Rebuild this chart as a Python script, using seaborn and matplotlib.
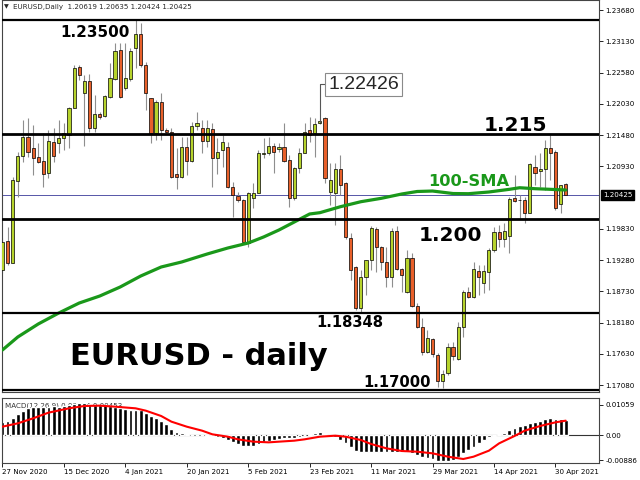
import matplotlib
matplotlib.use("Agg")
import matplotlib.pyplot as plt
import matplotlib.transforms as mtransforms
import numpy as np
import pandas as pd
import seaborn as sns

# daily candles, bar index 0 = 27 Nov 2020
opens = [1.19101, 1.19612, 1.19236, 1.20675, 1.21115, 1.21438, 1.21244, 1.21086, 1.21027, 1.20804,
         1.21350, 1.21332, 1.21420, 1.21479, 1.21960, 1.22670, 1.22212, 1.22430, 1.21608, 1.21849,
         1.21813, 1.22154, 1.22465, 1.22976, 1.22301, 1.22459, 1.23005, 1.23252, 1.22711, 1.22125,
         1.21508, 1.22054, 1.21567, 1.21526, 1.20786, 1.20745, 1.21273, 1.21021, 1.21637, 1.21608,
         1.21373, 1.21584, 1.21068, 1.21214, 1.21261, 1.20569, 1.20404, 1.20334, 1.19571, 1.20363,
         1.20463, 1.21150, 1.21156, 1.21291, 1.21226, 1.21261, 1.21039, 1.20363, 1.20892, 1.21168,
         1.21567, 1.21508, 1.21700, 1.21772, 1.20482, 1.20465, 1.20875, 1.20629, 1.19660, 1.19162,
         1.18428, 1.18985, 1.19279, 1.19819, 1.19502, 1.19250, 1.18985, 1.19795, 1.19114, 1.18721,
         1.19308, 1.18469, 1.18093, 1.17653, 1.17882, 1.17606, 1.17154, 1.17283, 1.17741, 1.17530,
         1.18104, 1.18721, 1.18621, 1.19091, 1.18868, 1.19073, 1.19455, 1.19766, 1.19642, 1.19701,
         1.20365, 1.20335, 1.20335, 1.20112, 1.20910, 1.20846, 1.20875, 1.21245, 1.21186, 1.20265,
         1.20619]
highs = [1.19659, 1.19865, 1.20745, 1.21185, 1.21743, 1.21772, 1.21655, 1.21332, 1.21508, 1.21567,
         1.21596, 1.21743, 1.21684, 1.21978, 1.22711, 1.22711, 1.22535, 1.22547, 1.22183, 1.21890,
         1.22183, 1.22741, 1.23093, 1.23093, 1.23093, 1.23017, 1.23500, 1.23445, 1.22770, 1.22125,
         1.22095, 1.22212, 1.21596, 1.21596, 1.21244, 1.21449, 1.21449, 1.21713, 1.21878, 1.21743,
         1.21743, 1.21684, 1.21420, 1.21479, 1.21361, 1.20657, 1.20481, 1.20352, 1.20481, 1.20627,
         1.21214, 1.21420, 1.21449, 1.21332, 1.21332, 1.21684, 1.21127, 1.20921, 1.21244, 1.21684,
         1.21802, 1.21772, 1.21760, 1.21802, 1.20981, 1.20981, 1.21128, 1.20658, 1.19748, 1.19173,
         1.19103, 1.19279, 1.19878, 1.19854, 1.19525, 1.19514, 1.19837, 1.19878, 1.19132, 1.19455,
         1.19396, 1.18516, 1.18252, 1.18046, 1.17899, 1.17647, 1.17342, 1.17811, 1.17840, 1.18193,
         1.18750, 1.18809, 1.19249, 1.19190, 1.19190, 1.19484, 1.19866, 1.19895, 1.19924, 1.20394,
         1.20775, 1.20423, 1.20394, 1.20981, 1.21128, 1.21157, 1.21392, 1.21480, 1.21215, 1.20600,
         1.20635]
lows = [1.19043, 1.19190, 1.19219, 1.20393, 1.21009, 1.21097, 1.20774, 1.20980, 1.20569, 1.20716,
        1.21009, 1.21156, 1.21214, 1.21244, 1.21948, 1.22447, 1.21291, 1.21537, 1.21537, 1.21760,
        1.21802, 1.22124, 1.22447, 1.22136, 1.22271, 1.22430, 1.22653, 1.22682, 1.21919, 1.21332,
        1.21391, 1.21391, 1.21508, 1.20716, 1.20528, 1.20716, 1.20774, 1.21009, 1.21567, 1.21156,
        1.21273, 1.20569, 1.20786, 1.20921, 1.20539, 1.20041, 1.20305, 1.19589, 1.19512, 1.20187,
        1.20451, 1.21068, 1.21127, 1.20804, 1.21185, 1.21009, 1.20216, 1.20334, 1.20804, 1.21156,
        1.21361, 1.21098, 1.21680, 1.20629, 1.20247, 1.19895, 1.20423, 1.19643, 1.18927, 1.18398,
        1.18351, 1.18662, 1.19103, 1.19073, 1.19103, 1.18809, 1.18809, 1.19103, 1.18721, 1.18703,
        1.18457, 1.18076, 1.17606, 1.17635, 1.17577, 1.17048, 1.17019, 1.17254, 1.17518, 1.17518,
        1.17928, 1.18603, 1.18603, 1.18662, 1.18691, 1.18750, 1.19425, 1.19513, 1.19513, 1.19396,
        1.20306, 1.20013, 1.19924, 1.20100, 1.20599, 1.20558, 1.20511, 1.20687, 1.20159, 1.20112,
        1.20424]
closes = [1.19600, 1.19219, 1.20686, 1.21115, 1.21438, 1.21185, 1.21080, 1.21009, 1.20786, 1.21379,
          1.21115, 1.21420, 1.21508, 1.21960, 1.22653, 1.22535, 1.22428, 1.21596, 1.21843, 1.21790,
          1.22166, 1.22477, 1.22958, 1.22154, 1.22477, 1.22958, 1.23252, 1.22711, 1.22212, 1.21508,
          1.22054, 1.21567, 1.21526, 1.20745, 1.20745, 1.21273, 1.21021, 1.21637, 1.21684, 1.21373,
          1.21596, 1.21080, 1.21185, 1.21350, 1.20569, 1.20422, 1.20334, 1.19600, 1.20463, 1.20463,
          1.21156, 1.21160, 1.21291, 1.21174, 1.21261, 1.21027, 1.20363, 1.20892, 1.21168, 1.21537,
          1.21479, 1.21667, 1.21720, 1.20717, 1.20688, 1.20875, 1.20600, 1.19678, 1.19103, 1.18428,
          1.18985, 1.19279, 1.19837, 1.19502, 1.19250, 1.18985, 1.19795, 1.19114, 1.19015, 1.19308,
          1.18469, 1.18093, 1.17653, 1.17899, 1.17624, 1.17154, 1.17271, 1.17741, 1.17588, 1.18093,
          1.18721, 1.18633, 1.19114, 1.18985, 1.19091, 1.19455, 1.19766, 1.19642, 1.19789, 1.20347,
          1.20324, 1.20330, 1.20112, 1.20969, 1.20816, 1.20881, 1.21245, 1.21169, 1.20188, 1.20600,
          1.20425]

# 100-SMA at these bars
sma_idx = [0, 3, 7, 11, 15, 19, 23, 27, 31, 35, 40, 44, 48, 51, 54, 57, 60, 62, 66, 70,
           74, 78, 81, 84, 88, 91, 95, 99, 101, 104, 107, 110]
sma_val = [1.17696, 1.17925, 1.18154, 1.18347, 1.18523, 1.18646, 1.18805, 1.18998, 1.19157, 1.19245,
           1.19386, 1.19491, 1.19579, 1.19685, 1.19808, 1.19949, 1.20090, 1.20113, 1.20218, 1.20306,
           1.20366, 1.20442, 1.20486, 1.20494, 1.20450, 1.20447, 1.20477, 1.20524, 1.20552, 1.20535,
           1.20524, 1.20512]

# MACD(12,26,9) histogram, one value per bar
macd_hist = [0.00447, 0.00506, 0.00589, 0.00742, 0.00859, 0.00942, 0.00977, 0.00977, 0.01000, 0.01000,
             0.01024, 0.01000, 0.01024, 0.01059, 0.01095, 0.01118, 0.01118, 0.01095, 0.01059, 0.01059,
             0.01059, 0.01024, 0.00977, 0.00942, 0.00906, 0.00883, 0.00883, 0.00883, 0.00789, 0.00671,
             0.00589, 0.00494, 0.00388, 0.00212, 0.00118, 0.00059, 0.00024, 0.00005, -0.00005, -0.00012,
             -0.00024, -0.00050, -0.00070, -0.00120, -0.00180, -0.00250, -0.00320, -0.00380, -0.00390, -0.00390,
             -0.00320, -0.00240, -0.00200, -0.00180, -0.00150, -0.00120, -0.00120, -0.00120, -0.00080, -0.00010,
             0.00030, 0.00060, 0.00090, 0.00035, -0.00024, -0.00082, -0.00177, -0.00294, -0.00435, -0.00553,
             -0.00600, -0.00600, -0.00589, -0.00589, -0.00600, -0.00600, -0.00600, -0.00600, -0.00589, -0.00600,
             -0.00647, -0.00706, -0.00765, -0.00800, -0.00847, -0.00906, -0.00918, -0.00906, -0.00883, -0.00789,
             -0.00647, -0.00530, -0.00412, -0.00294, -0.00177, -0.00082, -0.00035, 0.00024, 0.00082, 0.00177,
             0.00259, 0.00330, 0.00353, 0.00412, 0.00447, 0.00506, 0.00565, 0.00612, 0.00565, 0.00553,
             0.00530]
signal_idx = [0, 3, 6, 9, 13, 16, 19, 22, 26, 28, 31, 33, 36, 39, 41, 44, 46, 49, 52, 54,
              57, 59, 62, 65, 67, 70, 72, 75, 78, 81, 84, 87, 90, 92, 95, 97, 100, 102, 105, 108, 110]
signal_val = [0.00294, 0.00412, 0.00589, 0.00789, 0.00942, 0.01024, 0.01036, 0.01000, 0.00942, 0.00859,
              0.00671, 0.00471, 0.00294, 0.00153, 0.00024, -0.00059, -0.00153, -0.00235, -0.00259, -0.00235,
              -0.00200, -0.00153, -0.00059, -0.00024, -0.00059, -0.00177, -0.00318, -0.00471, -0.00565, -0.00589,
              -0.00647, -0.00765, -0.00847, -0.00765, -0.00553, -0.00294, -0.00035, 0.00153, 0.00318, 0.00447,
              0.00506]

price_ticks = [1.23680, 1.23130, 1.22580, 1.22030, 1.21480, 1.20930, 1.19830,
               1.19280, 1.18730, 1.18180, 1.17630, 1.17080]
macd_ticks = [0.01059, 0.0, -0.00886]
macd_tick_labels = ["0.01059", "0.00", "-0.00886"]
date_idx = [0, 12, 24, 36, 48, 60, 72, 84, 96, 108]
date_labels = ["27 Nov 2020", "15 Dec 2020", "4 Jan 2021", "20 Jan 2021", "5 Feb 2021",
               "23 Feb 2021", "11 Mar 2021", "29 Mar 2021", "14 Apr 2021", "30 Apr 2021"]
levels = [1.23500, 1.21500, 1.20000, 1.18348, 1.17000]
last_price = 1.20425

BULL = "#b6d32c"
BEAR = "#e8602a"
SMA_GREEN = "#1a981a"

sns.set_style("white")
plt.rcParams["font.family"] = ["DejaVu Sans"]

W, H = 640, 480
fig = plt.figure(figsize=(6.4, 4.8), dpi=100)
ax = fig.add_axes([2 / W, 1 - 392 / H, 597 / W, 392 / H])
axm = fig.add_axes([2 / W, 1 - 463 / H, 597 / W, 65 / H])

df = pd.DataFrame({"o": opens, "h": highs, "l": lows, "c": closes})
df["i"] = np.arange(len(df))
df["up"] = df["c"] >= df["o"]

# candles
ax.vlines(df["i"], df["l"], df["h"], color="#8e8e8e", lw=0.8, zorder=2)
body = (df["c"] - df["o"]).abs().clip(lower=0.00004)
ax.bar(df["i"], body, bottom=df[["o", "c"]].min(axis=1), width=0.62,
       color=np.where(df["up"], BULL, BEAR), edgecolor="black", linewidth=0.5, zorder=3)

# current price line and levels
ax.axhline(last_price, color="#5555a8", lw=0.7, zorder=1.5)
for lv in levels:
    ax.axhline(lv, color="black", lw=2.0 if lv in (1.215, 1.2) else 1.6, zorder=5)

sma_df = pd.DataFrame({"i": sma_idx, "sma": sma_val})
sns.lineplot(data=sma_df, x="i", y="sma", ax=ax, color=SMA_GREEN, lw=2.3, zorder=4, legend=False)

ax.set_xlim(-0.08, 116.5)
ax.set_ylim(1.16957, 1.23856)
ax.set_xticks([])
ax.set_xlabel("")
ax.set_ylabel("")
ax.yaxis.tick_right()
ax.set_yticks(price_ticks)
ax.set_yticklabels([f"{p:.5f}" for p in price_ticks])
ax.tick_params(axis="y", right=True, length=3, width=0.6, pad=1.5, labelsize=5.1, colors="black")
for sp in ax.spines.values():
    sp.set_color("#444444")
    sp.set_linewidth(0.8)

# last price box on the right axis
trans = mtransforms.blended_transform_factory(ax.transAxes, ax.transData)
ax.text(1 + 4 / 597, last_price, f"{last_price:.5f}", transform=trans, ha="left", va="center",
        fontsize=5.1, color="white", clip_on=False,
        bbox=dict(boxstyle="square,pad=0.25", fc="black", ec="black"))

# chart annotations
bold = dict(fontweight="bold", color="black", ha="left", va="baseline", zorder=6)
ax.text(11.25, 1.23205, "1.23500", fontsize=11, **bold)
ax.text(93.9, 1.21550, "1.215", fontsize=14.5, **bold)
ax.text(81.2, 1.19614, "1.200", fontsize=14.5, **bold)
ax.text(61.25, 1.18101, "1.18348", fontsize=10.6, **bold)
ax.text(70.4, 1.17045, "1.17000", fontsize=10.6, **bold)
ax.text(13.2, 1.17432, "EURUSD - daily", fontsize=22, **bold)
ax.text(83.1, 1.20574, "100-SMA", fontsize=11.7, fontweight="bold", color=SMA_GREEN,
        ha="left", va="baseline", zorder=6)
ax.annotate("1.22426", xy=(62, 1.21714), xytext=(63.6, 1.22290), textcoords="data",
            ha="left", va="baseline", fontsize=14, family=["Liberation Sans", "DejaVu Sans"],
            bbox=dict(boxstyle="square,pad=0.15", fc="white", ec="#8a8a8a", lw=0.8),
            arrowprops=dict(arrowstyle="-", color="#555555", lw=0.8, shrinkA=0, shrinkB=0,
                            connectionstyle="angle,angleA=0,angleB=90,rad=0"),
            zorder=6)

fig.text(4 / W, 1 - 7 / H, "\u25bc", fontsize=4.5, va="center", ha="left")
fig.text(13 / W, 1 - 7 / H, "EURUSD,Daily  1.20619 1.20635 1.20424 1.20425",
         fontsize=5.1, va="center", ha="left")

# MACD panel
axm.text(3 / 597, 0.877, "MACD(12,26,9) 0.00464 0.00453", transform=axm.transAxes,
         fontsize=5.1, va="center", ha="left", color="#333333", zorder=1)
axm.bar(np.arange(len(macd_hist)), macd_hist, width=0.75, color="black", zorder=2)
axm.axhline(0, color="#333333", lw=0.8, zorder=1.5)
sig_df = pd.DataFrame({"i": signal_idx, "sig": signal_val})
sns.lineplot(data=sig_df, x="i", y="sig", ax=axm, color="#ff0000", lw=1.5, zorder=3, legend=False)

axm.set_xlim(-0.08, 116.5)
axm.set_ylim(-0.00988, 0.01306)
axm.set_xlabel("")
axm.set_ylabel("")
axm.yaxis.tick_right()
axm.set_yticks(macd_ticks)
axm.set_yticklabels(macd_tick_labels)
axm.set_xticks(date_idx)
axm.set_xticklabels(date_labels)
for lbl in axm.get_xticklabels():
    lbl.set_ha("left")
axm.tick_params(axis="y", right=True, length=3, width=0.6, pad=1.5, labelsize=5.1, colors="black")
axm.tick_params(axis="x", bottom=True, length=3, width=0.6, pad=1.5, labelsize=5.1, colors="black")
for sp in axm.spines.values():
    sp.set_color("#444444")
    sp.set_linewidth(0.8)

fig.savefig("out.png", dpi=100)
